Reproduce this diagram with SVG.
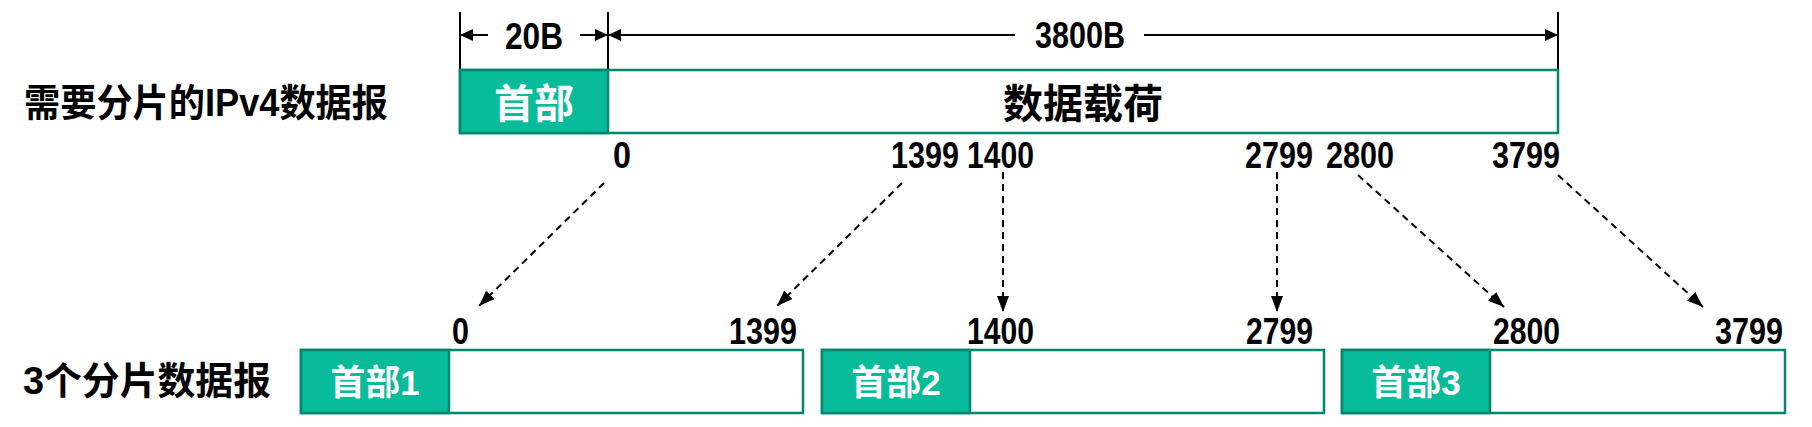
<svg xmlns="http://www.w3.org/2000/svg" width="1812" height="427" viewBox="0 0 1812 427">
<style>
.cjk{font-family:"Liberation Sans","Noto Sans CJK SC",sans-serif;font-weight:bold;}
.num{font-family:"Liberation Sans","Noto Sans CJK SC",sans-serif;font-weight:bold;font-size:36px;fill:#000;}
.title{font-size:38px;fill:#000;}
.hdr{fill:#08BB9A;stroke:#00876E;stroke-width:2.5;}
.pay{fill:#fff;stroke:#00876E;stroke-width:2.5;}
.htxt{fill:#fff;text-anchor:middle;}
.dim{stroke:#000;stroke-width:2;fill:none;}
.dash{stroke:#000;stroke-width:2;fill:none;stroke-dasharray:7 5;marker-end:url(#ah2);}
</style>
<defs>
<marker id="ah" viewBox="0 0 13 12" refX="13" refY="6" markerWidth="13" markerHeight="12" markerUnits="userSpaceOnUse" orient="auto-start-reverse">
<path d="M0,0 L13,6 L0,12 z" fill="#000"/>
</marker>
<marker id="ah2" viewBox="0 0 16 12" refX="16" refY="6" markerWidth="16" markerHeight="12" markerUnits="userSpaceOnUse" orient="auto">
<path d="M0,0 L16,6 L0,12 z" fill="#000"/>
</marker>
</defs>

<g id="title1">
<text class="cjk title" x="24" y="116" textLength="364" lengthAdjust="spacingAndGlyphs">需要分片的IPv4数据报</text>
</g>
<g id="title2">
<text class="cjk title" x="23" y="394" textLength="248" lengthAdjust="spacingAndGlyphs">3个分片数据报</text>
</g>

<g id="dimensions">
<line class="dim" x1="460" y1="12" x2="460" y2="70"/>
<line class="dim" x1="608" y1="12" x2="608" y2="70"/>
<line class="dim" x1="1558" y1="12" x2="1558" y2="70"/>
<line class="dim" x1="488" y1="35" x2="460" y2="35" marker-end="url(#ah)"/>
<line class="dim" x1="580" y1="35" x2="608" y2="35" marker-end="url(#ah)"/>
<line class="dim" x1="1015" y1="35" x2="608" y2="35" marker-end="url(#ah)"/>
<line class="dim" x1="1144" y1="35" x2="1558" y2="35" marker-end="url(#ah)"/>
<text class="num" x="505" y="49" textLength="58" lengthAdjust="spacingAndGlyphs">20B</text>
<text class="num" x="1035" y="48" textLength="90" lengthAdjust="spacingAndGlyphs">3800B</text>
</g>

<g id="original">
<rect class="pay" x="460" y="70" width="1098" height="63"/>
<rect class="hdr" x="460" y="70" width="148" height="63"/>
<text class="cjk htxt" x="534" y="118" font-size="40">首部</text>
<text class="cjk" x="1083" y="118" font-size="40" text-anchor="middle" fill="#000">数据载荷</text>
</g>

<g id="top-numbers">
<text class="num" x="613" y="168" textLength="18" lengthAdjust="spacingAndGlyphs">0</text>
<text class="num" x="891" y="168" textLength="68" lengthAdjust="spacingAndGlyphs">1399</text>
<text class="num" x="967" y="168" textLength="67" lengthAdjust="spacingAndGlyphs">1400</text>
<text class="num" x="1245" y="168" textLength="68" lengthAdjust="spacingAndGlyphs">2799</text>
<text class="num" x="1326" y="168" textLength="68" lengthAdjust="spacingAndGlyphs">2800</text>
<text class="num" x="1492" y="168" textLength="68" lengthAdjust="spacingAndGlyphs">3799</text>
</g>

<g id="connectors">
<line class="dash" x1="604" y1="183" x2="479" y2="306"/>
<line class="dash" x1="902" y1="183" x2="777" y2="306"/>
<line class="dash" x1="1003" y1="172" x2="1003" y2="312"/>
<line class="dash" x1="1277" y1="172" x2="1277" y2="312"/>
<line class="dash" x1="1358" y1="175" x2="1504" y2="307"/>
<line class="dash" x1="1558" y1="175" x2="1703" y2="307"/>
</g>

<g id="fragment1">
<rect class="pay" x="301" y="350" width="502" height="63"/>
<rect class="hdr" x="301" y="350" width="148" height="63"/>
<text class="cjk htxt" x="375" y="395" font-size="35">首部1</text>
<text class="num" x="452" y="344" textLength="17" lengthAdjust="spacingAndGlyphs">0</text>
<text class="num" x="729" y="344" textLength="68" lengthAdjust="spacingAndGlyphs">1399</text>
</g>
<g id="fragment2">
<rect class="pay" x="822" y="350" width="502" height="63"/>
<rect class="hdr" x="822" y="350" width="148" height="63"/>
<text class="cjk htxt" x="896" y="395" font-size="35">首部2</text>
<text class="num" x="967" y="344" textLength="67" lengthAdjust="spacingAndGlyphs">1400</text>
<text class="num" x="1246" y="344" textLength="67" lengthAdjust="spacingAndGlyphs">2799</text>
</g>
<g id="fragment3">
<rect class="pay" x="1342" y="350" width="443" height="63"/>
<rect class="hdr" x="1342" y="350" width="148" height="63"/>
<text class="cjk htxt" x="1416" y="395" font-size="35">首部3</text>
<text class="num" x="1493" y="344" textLength="67" lengthAdjust="spacingAndGlyphs">2800</text>
<text class="num" x="1715" y="344" textLength="68" lengthAdjust="spacingAndGlyphs">3799</text>
</g>
</svg>
